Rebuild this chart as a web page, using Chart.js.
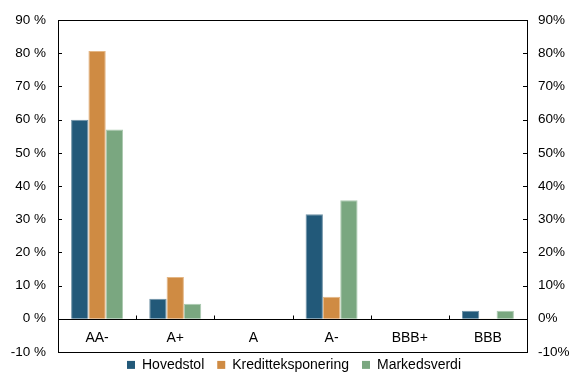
<!DOCTYPE html>
<html>
<head>
<meta charset="utf-8">
<script src="https://cdn.jsdelivr.net/npm/chart.js@4"></script>
<style>
  html, body { margin: 0; padding: 0; background: #fff; }
  #wrap { width: 572px; height: 372px; }
</style>
</head>
<body>
<div id="wrap"><canvas id="chart" width="572" height="372"></canvas></div>
<script>
var ratings = ["AA-", "A+", "A", "A-", "BBB+", "BBB"];
var hovedstol = [60.0, 6.0, 0, 31.5, 0, 2.4];
var kreditt = [80.7, 12.6, 0, 6.6, 0, 0.1];
var markedsverdi = [57.0, 4.5, 0, 35.7, 0, 2.4];
var yTicks = [-10, 0, 10, 20, 30, 40, 50, 60, 70, 80, 90];

var FONT = "Liberation Sans, Arial, sans-serif";

// frame around the plot, zero line and short inward ticks
var framePlugin = {
  id: "frame",
  afterInit: function (chart) {
    // legend strip is kept short; items sit a bit higher and under the plot centre
    var lg = chart.legend;
    var fit = lg.fit;
    lg.fit = function () {
      fit.call(this);
      this.height = 20;
    };
    var draw = lg.draw;
    lg.draw = function () {
      var t = this.top, b = this.bottom, l = this.left, r = this.right;
      this.top = t - 7;
      this.bottom = chart.height;
      this.left = l + 16;
      this.right = r;
      draw.call(this);
      this.top = t; this.bottom = b; this.left = l; this.right = r;
    };
  },
  afterDraw: function (chart) {
    var ctx = chart.ctx;
    var a = chart.chartArea;
    var y = chart.scales.y;
    var x = chart.scales.x;
    ctx.save();
    ctx.strokeStyle = "#000";
    ctx.lineWidth = 1;
    ctx.strokeRect(Math.round(a.left) + 0.5, Math.round(a.top) + 0.5,
      Math.round(a.right - a.left), Math.round(a.bottom - a.top));
    ctx.beginPath();
    yTicks.forEach(function (v) {
      var py = Math.round(y.getPixelForValue(v)) + 0.5;
      ctx.moveTo(a.left, py);
      ctx.lineTo(a.left + 4, py);
      ctx.moveTo(a.right, py);
      ctx.lineTo(a.right - 4, py);
    });
    var zero = Math.round(y.getPixelForValue(0)) + 0.5;
    ctx.moveTo(a.left, zero);
    ctx.lineTo(a.right, zero);
    for (var i = 1; i < ratings.length; i++) {
      var px = Math.round((x.getPixelForValue(i - 1) + x.getPixelForValue(i)) / 2) + 0.5;
      ctx.moveTo(px, zero);
      ctx.lineTo(px, zero - 4);
    }
    ctx.stroke();
    ctx.restore();
  }
};

var ctx = document.getElementById("chart");
var myChart = new Chart(ctx, {
  type: "bar",
  data: {
    labels: ratings,
    datasets: [
      {
        label: "Hovedstol",
        data: hovedstol,
        backgroundColor: "rgb(34, 89, 121)",
        borderColor: "rgb(110, 145, 165)"
      },
      {
        label: "Kreditteksponering",
        data: kreditt,
        backgroundColor: "rgb(207, 139, 67)",
        borderColor: "rgb(228, 182, 132)"
      },
      {
        label: "Markedsverdi",
        data: markedsverdi,
        backgroundColor: "rgb(122, 167, 128)",
        borderColor: "rgb(172, 202, 176)"
      }
    ]
  },
  options: {
    responsive: false,
    animation: false,
    layout: { padding: { top: 12, left: 0, right: 0, bottom: 0 } },
    datasets: {
      bar: { categoryPercentage: 0.665, barPercentage: 1.0, borderWidth: 1 }
    },
    plugins: {
      legend: {
        position: "bottom",
        labels: {
          color: "#000",
          boxWidth: 8,
          boxHeight: 8,
          padding: 13,
          font: { family: FONT, size: 14 },
          generateLabels: function (chart) {
            // plain squares without the bar edge colour
            return Chart.defaults.plugins.legend.labels.generateLabels(chart).map(function (item) {
              item.strokeStyle = item.fillStyle;
              item.lineWidth = 0;
              return item;
            });
          }
        }
      },
      tooltip: { enabled: false }
    },
    scales: {
      x: {
        position: { y: 0 },
        grid: { display: false, drawTicks: false },
        border: { display: false },
        ticks: {
          color: "#000",
          padding: 11,
          font: { family: FONT, size: 14 }
        }
      },
      y: {
        position: "left",
        min: -10,
        max: 90,
        grid: { display: false, drawTicks: false },
        border: { display: false },
        afterFit: function (s) { s.width = 58; },
        ticks: {
          stepSize: 10,
          color: "#000",
          padding: 12,
          font: { family: FONT, size: 13.5 },
          callback: function (v) { return v + " %"; }
        }
      },
      y2: {
        position: "right",
        min: -10,
        max: 90,
        grid: { display: false, drawTicks: false },
        border: { display: false },
        afterFit: function (s) { s.width = 45; },
        ticks: {
          stepSize: 10,
          color: "#000",
          padding: 11,
          font: { family: FONT, size: 13.5 },
          callback: function (v) { return v + "%"; }
        }
      }
    }
  },
  plugins: [framePlugin]
});
</script>
</body>
</html>
